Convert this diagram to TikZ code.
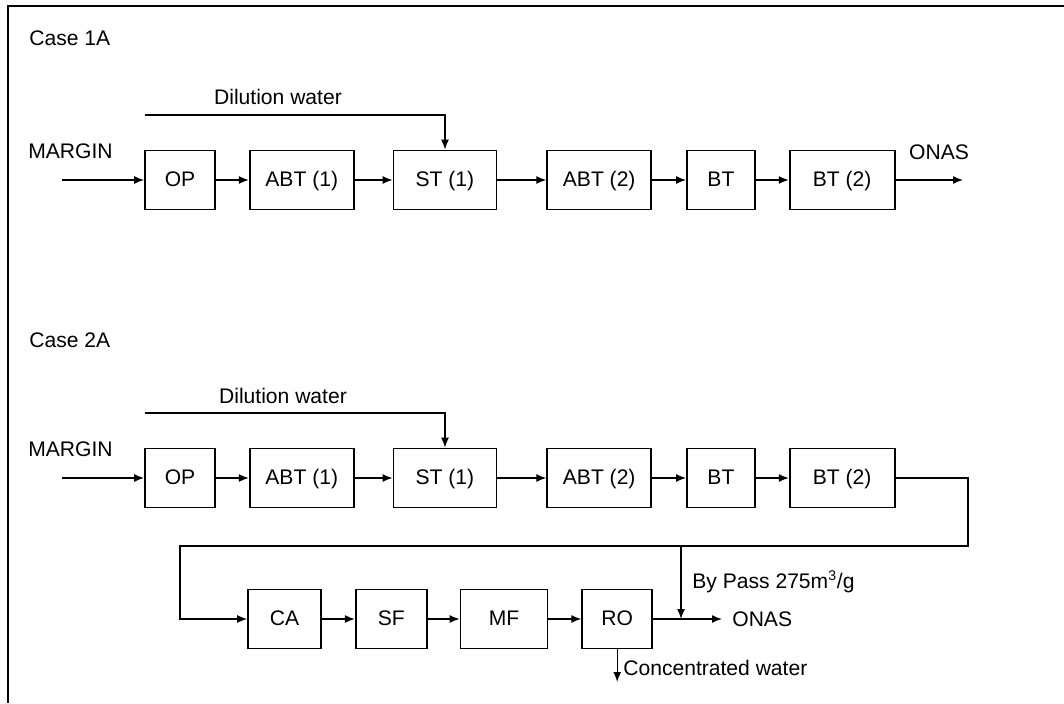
\documentclass[tikz,border=0pt]{standalone}
\usepackage{fontspec}
\setmainfont{Liberation Sans}
\usetikzlibrary{positioning,arrows.meta}

\begin{document}
\begin{tikzpicture}[
  x=0.02cm, y=-0.02cm,
  node distance=6.6mm,
  unit/.style={draw, line width=1pt, minimum height=1.18cm, inner sep=0pt,
               text height=0.72em, text depth=0pt,
               font=\fontsize{12}{14}\selectfont},
  lbl/.style={inner sep=0pt, font=\fontsize{12}{14}\selectfont},
  arr/.style={-{Latex[length=2mm,width=1.6mm]}, line width=0.8pt},
]
\useasboundingbox (0,0) rectangle (1064,703);

% frame
\draw[line width=1.5pt] (8,703) -- (8,6) -- (1064,6);

% Case 1A
\node[lbl, anchor=west] (case1) at (29,38) {Case 1A};
\node[lbl, anchor=west] (margin1) at (28,151) {MARGIN};
\node[lbl] (dil1lbl) at (278,97) {Dilution water};

\node[unit, minimum width=1.4cm] (op1) at (180,180) {OP};
\node[unit, minimum width=2.08cm, right=0.66cm of op1] (abt1a) {ABT (1)};
\node[unit, minimum width=2.06cm, right=0.76cm of abt1a] (st1a) {ST (1)};
\node[unit, minimum width=2.08cm, right=0.98cm of st1a] (abt2a) {ABT (2)};
\node[unit, minimum width=1.36cm, right=0.68cm of abt2a] (bt1a) {BT};
\node[unit, minimum width=2.1cm, right=0.66cm of bt1a] (bt2a) {BT (2)};
\node[lbl] (onas1) at (939,152) {ONAS};

\coordinate (in1) at (62,180);
\coordinate (out1) at (963,180);
\coordinate (dil1) at (145,115);

\draw[arr] (in1) -- (op1);
\draw[arr] (op1) -- (abt1a);
\draw[arr] (abt1a) -- (st1a);
\draw[arr] (st1a) -- (abt2a);
\draw[arr] (abt2a) -- (bt1a);
\draw[arr] (bt1a) -- (bt2a);
\draw[arr] (bt2a) -- (out1);
\draw[arr] (dil1) -| (st1a.north);

% Case 2A
\node[lbl, anchor=west] (case2) at (29,340) {Case 2A};
\node[lbl, anchor=west] (margin2) at (28,449) {MARGIN};
\node[lbl] (dil2lbl) at (283,396) {Dilution water};

\node[unit, minimum width=1.4cm] (op2) at (180,478) {OP};
\node[unit, minimum width=2.08cm, right=0.66cm of op2] (abt1b) {ABT (1)};
\node[unit, minimum width=2.06cm, right=0.76cm of abt1b] (st1b) {ST (1)};
\node[unit, minimum width=2.08cm, right=0.98cm of st1b] (abt2b) {ABT (2)};
\node[unit, minimum width=1.36cm, right=0.68cm of abt2b] (bt1b) {BT};
\node[unit, minimum width=2.1cm, right=0.66cm of bt1b] (bt2b) {BT (2)};

\node[unit, minimum width=1.46cm] (ca) at (284.5,619) {CA};
\node[unit, minimum width=1.42cm, right=0.66cm of ca] (sf) {SF};
\node[unit, minimum width=1.74cm, right=0.64cm of sf] (mf) {MF};
\node[unit, minimum width=1.4cm, right=0.66cm of mf] (ro) {RO};

\node[lbl, anchor=west] (onas2) at (732,619) {ONAS};
\node[lbl, anchor=west] (byplbl) at (692,582) {By Pass 275m\textsuperscript{3}/g};
\node[lbl, anchor=west] (conclbl) at (623,668) {Concentrated water};

\coordinate (in2) at (62,478);
\coordinate (dil2) at (145,413);
\coordinate (turn1) at (968,546);
\coordinate (turn2) at (180,546);
\coordinate (byp) at (681,546);
\coordinate (out2) at (722,619);
\coordinate (conc) at (612,682);

\draw[arr] (in2) -- (op2);
\draw[arr] (op2) -- (abt1b);
\draw[arr] (abt1b) -- (st1b);
\draw[arr] (st1b) -- (abt2b);
\draw[arr] (abt2b) -- (bt1b);
\draw[arr] (bt1b) -- (bt2b);
\draw[arr] (dil2) -| (st1b.north);

\draw[arr] (bt2b) -| (turn1) -- (turn2) |- (ca);
\draw[arr] (ca) -- (sf);
\draw[arr] (sf) -- (mf);
\draw[arr] (mf) -- (ro);
\draw[arr] (ro) -- (out2);
\draw[arr] (byp) -- (byp |- ro);
\draw[arr] (ro.south) -- (ro.south |- conc);
\end{tikzpicture}
\end{document}
